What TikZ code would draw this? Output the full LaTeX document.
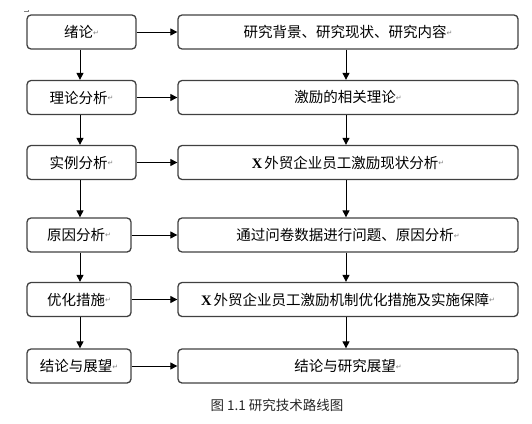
\documentclass[tikz,border=0pt]{standalone}
\usepackage{fontspec}
\usetikzlibrary{arrows.meta}
\newfontfamily\cjk{Noto Sans CJK SC}
\newfontfamily\dejavu{DejaVu Sans}
\newfontfamily\serifx{Liberation Serif}
\newcommand\pmark{\raisebox{2.5pt}{\color{gray}\fontsize{7}{7}\dejavu ↵}}
\newcommand\xx{{\serifx\bfseries X}\hspace{2pt}}
\tikzset{
  box/.style={draw=black!75, line width=1.3pt, rounded corners=4pt, minimum height=34pt, inner sep=0pt, font=\cjk\fontsize{14.5}{15}\selectfont},
  lbox/.style={box},
  rbox/.style={box, minimum width=340pt},
  arr/.style={-{Triangle[length=7pt,width=7pt]}, line width=1pt, black}
}
\begin{document}
\begin{tikzpicture}[x=1pt,y=-1pt]
\useasboundingbox (0,0) rectangle (532,423);
\draw[gray, line width=0.5pt] (24,11.5) -- (28,11.5) -- (28,9.5);
% left column
\node[lbox, minimum width=109pt] (l1) at (81.5,32) {绪论\pmark};
\node[lbox, minimum width=109pt] (l2) at (81.5,97.5) {理论分析\pmark};
\node[lbox, minimum width=109pt] (l3) at (81.5,162.5) {实例分析\pmark};
\node[lbox, minimum width=104pt] (l4) at (79,235) {原因分析\pmark};
\node[lbox, minimum width=104pt] (l5) at (79,299.5) {优化措施\pmark};
\node[lbox, minimum width=104pt] (l6) at (79,366) {结论与展望\pmark};
% right column
\node[rbox] (r1) at (348,32) {研究背景、研究现状、研究内容\pmark};
\node[rbox] (r2) at (348,97.5) {激励的相关理论\pmark};
\node[rbox] (r3) at (348,162.5) {\xx 外贸企业员工激励现状分析\pmark};
\node[rbox] (r4) at (348,235) {通过问卷数据进行问题、原因分析\pmark};
\node[rbox] (r5) at (348,299.5) {\xx 外贸企业员工激励机制优化措施及实施保障\pmark};
\node[rbox] (r6) at (348,366) {结论与研究展望\pmark};
% vertical arrows
\foreach \a/\b in {l1/l2,l2/l3,l3/l4,l4/l5,l5/l6}{
  \draw[arr] (\a.south -| 80,0) -- (\b.north -| 80,0);
}
\foreach \a/\b in {r1/r2,r2/r3,r3/r4,r4/r5,r5/r6}{
  \draw[arr] (\a.south -| 346,0) -- (\b.north -| 346,0);
}
% horizontal arrows
\foreach \i in {1,...,6}{
  \draw[arr] (l\i.east) -- (r\i.west);
}
\node[font=\cjk\fontsize{13.5}{14}\selectfont, text=black!85] (cap) at (277,405) {图 1.1 研究技术路线图};
\end{tikzpicture}
\end{document}
